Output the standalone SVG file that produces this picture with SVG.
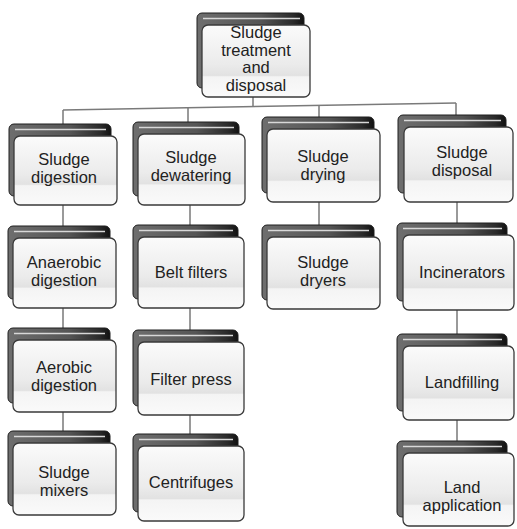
<svg xmlns="http://www.w3.org/2000/svg" width="517" height="529" viewBox="0 0 517 529">
<defs>
<linearGradient id="gb" x1="0" y1="0" x2="1" y2="0">
<stop offset="0" stop-color="#6e6e6e"/><stop offset="0.6" stop-color="#555"/><stop offset="0.9" stop-color="#2a2a2a"/><stop offset="1" stop-color="#111"/>
</linearGradient>
<linearGradient id="gf" x1="0" y1="0" x2="0" y2="1">
<stop offset="0" stop-color="#fbfbfb"/><stop offset="0.55" stop-color="#ebebeb"/><stop offset="0.7" stop-color="#e2e2e2"/><stop offset="0.72" stop-color="#f4f4f4"/><stop offset="1" stop-color="#fafafa"/>
</linearGradient>
<style>
.back{fill:url(#gb);stroke:#1e1e1e;stroke-width:1}
.hl{stroke:#d8d8d8;stroke-width:1.6;fill:none}
.front{fill:url(#gf);stroke:#3a3a3a;stroke-width:1.3}
.t{font-family:"Liberation Sans",Arial,sans-serif;font-size:16.5px;fill:#222;text-anchor:middle}
.c{stroke:#7a7a7a;stroke-width:1.5;fill:none}
</style>
</defs>
<rect width="517" height="529" fill="#fff"/>
<g id="connectors">
<path class="c" d="M253,97 V107"/>
<path class="c" d="M63,110 L456,103"/>
<path class="c" d="M63,110 V124 M188,108 V122 M319,105.5 V118 M456,103 V116"/>
<path class="c" d="M63,205 V440 M190,205 V440 M319,202 V230 M457,202 V450"/>
</g>
<g id="n0">
<rect class="back" x="197" y="13" width="107" height="75" rx="5"/>
<path class="hl" d="M203,18.5 H300"/>
<rect class="front" x="202" y="25" width="108" height="72" rx="6"/>
<text class="t" x="256" y="38">Sludge</text><text class="t" x="256" y="55.5">treatment</text><text class="t" x="256" y="73">and</text><text class="t" x="256" y="90.5">disposal</text>
</g>
<g id="n1">
<rect class="back" x="9" y="124" width="102" height="72" rx="5"/>
<path class="hl" d="M15,129.5 H106"/>
<rect class="front" x="14" y="136" width="103" height="69" rx="6"/>
<text class="t" x="64" y="165">Sludge</text><text class="t" x="64" y="183">digestion</text>
</g>
<g id="n2">
<rect class="back" x="8" y="226" width="102" height="73" rx="5"/>
<path class="hl" d="M14,231.5 H105"/>
<rect class="front" x="13" y="238" width="103" height="70" rx="6"/>
<text class="t" x="64" y="268">Anaerobic</text><text class="t" x="64" y="285.5">digestion</text>
</g>
<g id="n3">
<rect class="back" x="8" y="328" width="102" height="75" rx="5"/>
<path class="hl" d="M14,333.5 H105"/>
<rect class="front" x="13" y="340" width="103" height="72" rx="6"/>
<text class="t" x="64" y="373">Aerobic</text><text class="t" x="64" y="390.5">digestion</text>
</g>
<g id="n4">
<rect class="back" x="8" y="431" width="102" height="75" rx="5"/>
<path class="hl" d="M14,436.5 H105"/>
<rect class="front" x="13" y="443" width="103" height="72" rx="6"/>
<text class="t" x="64" y="478">Sludge</text><text class="t" x="64" y="495.5">mixers</text>
</g>
<g id="n5">
<rect class="back" x="133" y="122" width="106" height="74" rx="5"/>
<path class="hl" d="M139,127.5 H234"/>
<rect class="front" x="138" y="134" width="107" height="71" rx="6"/>
<text class="t" x="191" y="163">Sludge</text><text class="t" x="191" y="180.5">dewatering</text>
</g>
<g id="n6">
<rect class="back" x="133" y="225" width="105" height="74" rx="5"/>
<path class="hl" d="M139,230.5 H233"/>
<rect class="front" x="138" y="237" width="106" height="71" rx="6"/>
<text class="t" x="191" y="278">Belt filters</text>
</g>
<g id="n7">
<rect class="back" x="133" y="330" width="105" height="76" rx="5"/>
<path class="hl" d="M139,335.5 H233"/>
<rect class="front" x="138" y="342" width="106" height="73" rx="6"/>
<text class="t" x="191" y="385">Filter press</text>
</g>
<g id="n8">
<rect class="back" x="133" y="434" width="105" height="78" rx="5"/>
<path class="hl" d="M139,439.5 H233"/>
<rect class="front" x="138" y="446" width="106" height="75" rx="6"/>
<text class="t" x="191" y="488">Centrifuges</text>
</g>
<g id="n9">
<rect class="back" x="262" y="117" width="112" height="76" rx="5"/>
<path class="hl" d="M268,122.5 H369"/>
<rect class="front" x="267" y="129" width="113" height="73" rx="6"/>
<text class="t" x="323" y="162">Sludge</text><text class="t" x="323" y="179.5">drying</text>
</g>
<g id="n10">
<rect class="back" x="262" y="225" width="112" height="75" rx="5"/>
<path class="hl" d="M268,230.5 H369"/>
<rect class="front" x="267" y="237" width="113" height="72" rx="6"/>
<text class="t" x="323" y="268">Sludge</text><text class="t" x="323" y="286">dryers</text>
</g>
<g id="n11">
<rect class="back" x="398" y="115" width="108" height="78" rx="5"/>
<path class="hl" d="M404,120.5 H501"/>
<rect class="front" x="404" y="127" width="109" height="75" rx="6"/>
<text class="t" x="462" y="158">Sludge</text><text class="t" x="462" y="176">disposal</text>
</g>
<g id="n12">
<rect class="back" x="397" y="223" width="110" height="78" rx="5"/>
<path class="hl" d="M403,228.5 H502"/>
<rect class="front" x="403" y="235" width="111" height="75" rx="6"/>
<text class="t" x="462" y="278">Incinerators</text>
</g>
<g id="n13">
<rect class="back" x="397" y="334" width="110" height="77" rx="5"/>
<path class="hl" d="M403,339.5 H502"/>
<rect class="front" x="403" y="346" width="111" height="74" rx="6"/>
<text class="t" x="462" y="388">Landfilling</text>
</g>
<g id="n14">
<rect class="back" x="397" y="441" width="110" height="76" rx="5"/>
<path class="hl" d="M403,446.5 H502"/>
<rect class="front" x="403" y="453" width="111" height="73" rx="6"/>
<text class="t" x="462" y="493">Land</text><text class="t" x="462" y="510.5">application</text>
</g>
</svg>
